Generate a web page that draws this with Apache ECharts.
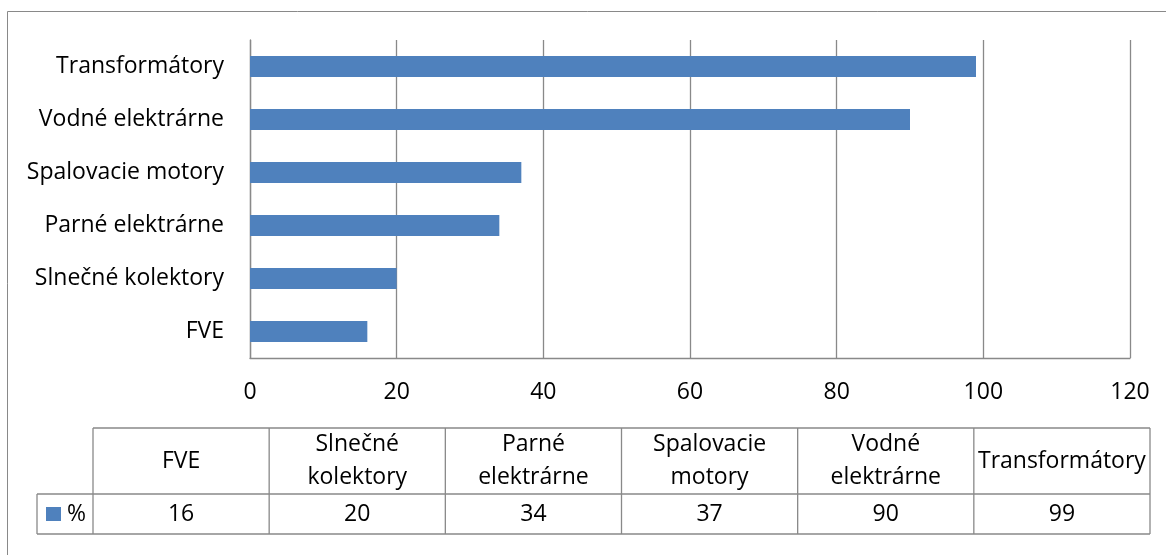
<!DOCTYPE html>
<html>
<head>
<meta charset="utf-8">
<script src="https://cdn.jsdelivr.net/npm/echarts@6/dist/echarts.min.js"></script>
<style>
html,body{margin:0;padding:0;background:#fff;}
#c{width:1166px;height:555px;}
</style>
</head>
<body>
<div id="c"></div>
<script>
var categories = ['FVE', 'Slnečné kolektory', 'Parné elektrárne', 'Spalovacie motory', 'Vodné elektrárne', 'Transformátory'];
var tableHeaders = ['FVE', 'Slnečné\nkolektory', 'Parné\nelektrárne', 'Spalovacie\nmotory', 'Vodné\nelektrárne', 'Transformátory'];
var values = [16, 20, 34, 37, 90, 99];
var seriesName = '%';
var xTicks = [0, 20, 40, 60, 80, 100, 120];

var FONT = '"Open Sans", sans-serif';
var FS = 23;
var GRAY = '#898989';
var BLUE = '#4F81BD';

var chart = echarts.init(document.getElementById('c'), null, {renderer: 'canvas'});

// table geometry
var tLeft = 93, tRight = 1150, legLeft = 37;
var yTop = 428, yMid = 494, yBot = 534;
var colW = (tRight - tLeft) / categories.length;

var g = [];
// outer frame
g.push({type: 'rect', shape: {x: 7.5, y: 11.5, width: 1400, height: 800},
  style: {fill: null, stroke: GRAY, lineWidth: 1}, silent: true});

function hline(y, x1, x2) {
  g.push({type: 'line', shape: {x1: x1, y1: y, x2: x2, y2: y}, style: {stroke: GRAY, lineWidth: 1.3}});
}
function vline(x, y1, y2) {
  g.push({type: 'line', shape: {x1: x, y1: y1, x2: x, y2: y2}, style: {stroke: GRAY, lineWidth: 1.3}});
}
hline(yTop, tLeft, tRight);
hline(yMid, legLeft, tRight);
hline(yBot, legLeft, tRight);
vline(legLeft, yMid, yBot);
for (var i = 0; i <= categories.length; i++) {
  vline(tLeft + i * colW, yTop, yBot);
}
for (var j = 0; j < categories.length; j++) {
  var cx = tLeft + (j + 0.5) * colW;
  g.push({type: 'text', x: cx, y: (yTop + yMid) / 2,
    style: {text: tableHeaders[j], fill: '#000', font: FS + 'px ' + FONT,
      align: 'center', verticalAlign: 'middle', lineHeight: 33}});
  g.push({type: 'text', x: cx, y: (yMid + yBot) / 2,
    style: {text: String(values[j]), fill: '#000', font: FS + 'px ' + FONT,
      align: 'center', verticalAlign: 'middle'}});
}
// legend key
g.push({type: 'rect', shape: {x: 46, y: 507, width: 15, height: 14}, style: {fill: BLUE}});
g.push({type: 'text', x: 67, y: (yMid + yBot) / 2,
  style: {text: seriesName, fill: '#000', font: FS + 'px ' + FONT, align: 'left', verticalAlign: 'middle'}});

chart.setOption({
  animation: false,
  backgroundColor: '#fff',
  textStyle: {fontFamily: FONT},
  grid: {left: 250, top: 40, right: 36, bottom: 197, containLabel: false},
  xAxis: {
    type: 'value', min: xTicks[0], max: xTicks[xTicks.length - 1], interval: 20,
    axisLine: {show: true, lineStyle: {color: GRAY, width: 1.3}},
    axisTick: {show: false},
    splitLine: {show: true, lineStyle: {color: GRAY, width: 1.3}},
    axisLabel: {color: '#000', fontSize: FS, fontFamily: FONT, margin: 23}
  },
  yAxis: {
    type: 'category', data: categories,
    axisLine: {show: true, lineStyle: {color: GRAY, width: 1.3}},
    axisTick: {show: false},
    splitLine: {show: false},
    axisLabel: {color: '#000', fontSize: FS, fontFamily: FONT, margin: 26}
  },
  series: [{
    name: seriesName, type: 'bar', data: values, barWidth: 21,
    itemStyle: {color: BLUE}
  }],
  graphic: g
});
</script>
</body>
</html>
